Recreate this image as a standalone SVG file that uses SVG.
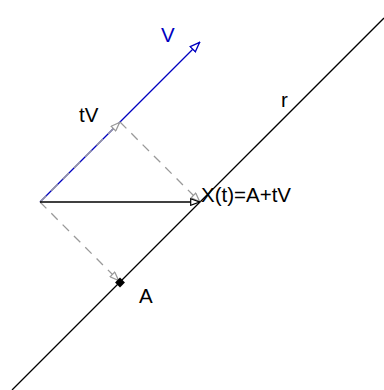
<svg xmlns="http://www.w3.org/2000/svg" width="384" height="390" viewBox="0 0 384 390">
<style>
text{font-family:"Liberation Sans",Arial,sans-serif;font-size:20.5px;fill:#000}
.blue{fill:#0000c0}
.dash{stroke:#999;stroke-width:1.3;stroke-dasharray:9,7;fill:none}
</style>
<defs>
<marker id="ab" viewBox="0 0 10 8" refX="10" refY="4" markerWidth="10" markerHeight="8" markerUnits="userSpaceOnUse" orient="auto"><path d="M0.7,0.7 L9.5,4 L0.7,7.3 Z" fill="#fff" stroke="#000" stroke-width="1.2"/></marker>
<marker id="abl" viewBox="0 0 10 8" refX="10" refY="4" markerWidth="11" markerHeight="9" markerUnits="userSpaceOnUse" orient="auto"><path d="M0.7,0.7 L9.5,4 L0.7,7.3 Z" fill="#fff" stroke="#0000c0" stroke-width="1.2"/></marker>
<marker id="ag" viewBox="0 0 10 8" refX="10" refY="4" markerWidth="10" markerHeight="8" markerUnits="userSpaceOnUse" orient="auto"><path d="M0.7,0.7 L9.5,4 L0.7,7.3 Z" fill="#fff" stroke="#999" stroke-width="1.2"/></marker>
</defs>
<g id="connectors">
<line id="r" x1="12" y1="390" x2="384" y2="18" stroke="#000" stroke-width="1.3"/>
<line id="vecV" x1="40" y1="202" x2="200" y2="42" stroke="#0000c0" stroke-width="1.3" marker-end="url(#abl)"/>
<line id="vecTV" x1="40" y1="202" x2="120" y2="122" class="dash" marker-end="url(#ag)"/>
<line id="projA" x1="40" y1="202" x2="119" y2="281" class="dash" marker-end="url(#ag)"/>
<line id="projX" x1="120" y1="122" x2="200" y2="202" class="dash" marker-end="url(#ag)"/>
<line id="vecX" x1="40" y1="202" x2="200" y2="202" stroke="#000" stroke-width="1.3" marker-end="url(#ab)"/>
</g>
<g id="pointA"><rect x="116.5" y="279" width="7" height="7" fill="#000" transform="rotate(45 120 282.5)"/><text x="139" y="303">A</text></g>
<g id="labelV"><text class="blue" x="161" y="42">V</text></g>
<g id="labelTV"><text x="79" y="122">tV</text></g>
<g id="labelR"><text x="281" y="107">r</text></g>
<g id="labelX"><text x="201" y="202">X(t)=A+tV</text></g>
</svg>
